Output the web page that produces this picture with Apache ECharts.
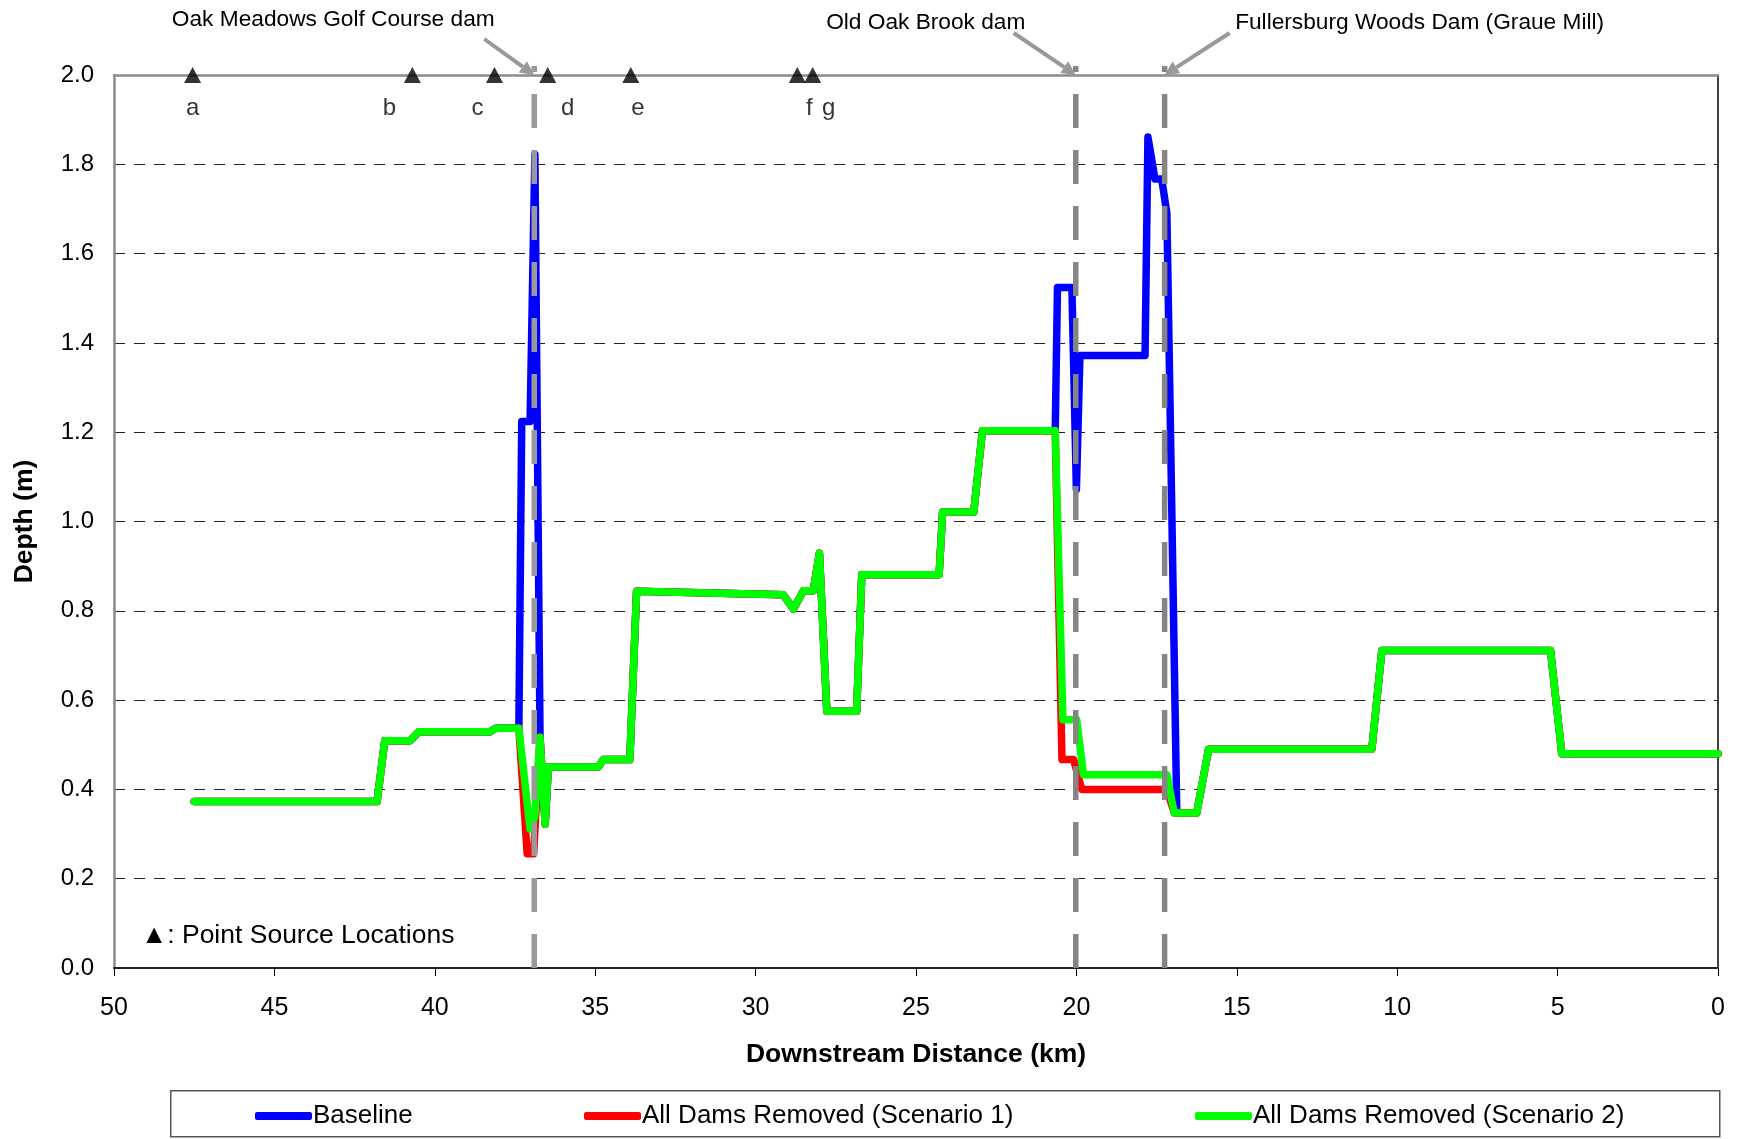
<!DOCTYPE html>
<html lang="en">
<head>
<meta charset="UTF-8">
<title>Depth profile</title>
<script src="https://cdn.jsdelivr.net/npm/echarts@6/dist/echarts.min.js"></script>
<style>
  html, body { margin: 0; padding: 0; background: #fff; }
  #chart { width: 1739px; height: 1139px; }
</style>
</head>
<body>
<div id="chart"></div>
<script>
// distances in km (downstream distance), depths in m
var upstream = [[47.5,0.373],[41.8,0.373],[41.56,0.509],[40.77,0.509],[40.5,0.529],[38.28,0.529],[38.1,0.537],[37.38,0.537]];
var midReach = [[36.72,0.517],[36.56,0.322],[36.46,0.45],[34.9,0.45],[34.75,0.467],[33.92,0.467],[33.71,0.844],
                [29.14,0.836],[28.82,0.804],[28.51,0.845],[28.2,0.845],[28.01,0.929],[27.78,0.575],[26.85,0.575],
                [26.69,0.881],[24.28,0.881],[24.17,1.021],[23.2,1.021],[22.93,1.203],[20.66,1.203]];
var downstream = [[16.25,0.347],[15.88,0.49],[10.79,0.49],[10.48,0.711],[5.22,0.711],[4.87,0.48],[0,0.48]];

var baseOakMeadows = [[37.29,1.224],[37.03,1.224],[36.88,1.822]];
var baseOakBrook = [[20.59,1.524],[20.14,1.524],[20.0,1.072],[19.89,1.372],[17.86,1.372],[17.77,1.861],
                    [17.55,1.767],[17.34,1.767],[17.18,1.69],[16.87,0.347]];
var scen1OakMeadows = [[37.12,0.256],[36.92,0.256]];
var scen1OakBrook = [[20.45,0.467],[20.09,0.467],[19.83,0.40],[17.18,0.40],[16.95,0.347]];
var scen2OakMeadows = [[37.03,0.311],[36.88,0.34]];
var scen2OakBrook = [[20.42,0.556],[19.99,0.556],[19.78,0.433],[17.18,0.433],[16.95,0.347]];

var srcNames = ['a','b','c','d','e','f','g'];
var srcKm = [47.55, 40.7, 38.14, 36.48, 33.89, 28.7, 28.22];
var srcLabelShift = [0, -23, -17, 20, 7, 12, 16];

var damNames = ['Oak Meadows Golf Course dam', 'Old Oak Brook dam', 'Fullersburg Woods Dam (Graue Mill)'];
var damKm = [36.9, 20.02, 17.25];

var xTicks = [0, 50, 5];   // min, max, interval
var yTicks = [0, 2, 0.2];

var baseline = upstream.concat(baseOakMeadows, midReach, baseOakBrook, downstream);
var scenario1 = upstream.concat(scen1OakMeadows, midReach, scen1OakBrook, downstream);
var scenario2 = upstream.concat(scen2OakMeadows, midReach, scen2OakBrook, downstream);

var FONT = 'Arial, "Liberation Sans", sans-serif';
var chart = echarts.init(document.getElementById('chart'));

function lineSeries(name, data, color) {
  return {
    name: name, type: 'line', data: data, showSymbol: false, symbol: 'none',
    lineStyle: { color: color, width: 7.5, join: 'round', cap: 'round' },
    itemStyle: { color: color }, z: 3, animation: false
  };
}

var damSeries = damKm.map(function (k, i) {
  return {
    name: damNames[i], type: 'line', data: [[k, 0], [k, 2.02]], clip: false, z: 6, silent: true,
    showSymbol: false, symbol: 'none',
    lineStyle: { color: i === 0 ? '#999' : '#858585', width: 5.5, type: [34, 22], cap: 'butt' }
  };
});

var option = {
  animation: false,
  backgroundColor: '#fff',
  textStyle: { fontFamily: FONT },
  grid: { left: 114, right: 21, top: 75, bottom: 171 },
  xAxis: [{
    type: 'value', inverse: true, min: xTicks[0], max: xTicks[1], interval: xTicks[2],
    name: 'Downstream Distance (km)', nameLocation: 'middle', nameGap: 73,
    nameTextStyle: { fontSize: 26.5, fontWeight: 'bold', color: '#000', fontFamily: FONT },
    axisLine: { onZero: false, lineStyle: { color: '#222', width: 2 } },
    axisTick: { show: true, length: 8, lineStyle: { color: '#000', width: 1 } },
    axisLabel: { fontSize: 25, color: '#000', margin: 28, fontFamily: FONT },
    splitLine: { show: false }, z: 4
  }, {
    type: 'value', position: 'top', inverse: true, min: xTicks[0], max: xTicks[1], interval: xTicks[2],
    axisLine: { show: true, onZero: false, lineStyle: { color: '#8c8c8c', width: 2.5 } },
    axisTick: { show: false }, axisLabel: { show: false }, splitLine: { show: false }, z: 4
  }],
  yAxis: [{
    type: 'value', min: yTicks[0], max: yTicks[1], interval: yTicks[2],
    name: 'Depth (m)', nameLocation: 'middle', nameGap: 76,
    nameTextStyle: { fontSize: 26.5, fontWeight: 'bold', color: '#000', fontFamily: FONT },
    axisLine: { show: true, onZero: false, lineStyle: { color: '#8c8c8c', width: 2.5 } },
    axisTick: { show: false },
    axisLabel: { fontSize: 24, color: '#000', margin: 20, fontFamily: FONT,
      formatter: function (v) { return v.toFixed(1); } },
    splitLine: { show: true, lineStyle: { color: '#222', width: 1, type: [11, 9] } }
  }, {
    type: 'value', position: 'right', min: yTicks[0], max: yTicks[1], interval: yTicks[2],
    axisLine: { show: true, onZero: false, lineStyle: { color: '#000', width: 1.5 } },
    axisTick: { show: false }, axisLabel: { show: false }, splitLine: { show: false }
  }],
  legend: [
    { data: ['Baseline'], left: 250, top: 1098 },
    { data: ['All Dams Removed (Scenario 1)'], left: 579, top: 1098 },
    { data: ['All Dams Removed (Scenario 2)'], left: 1190, top: 1098 }
  ].map(function (l) {
    l.icon = 'roundRect'; l.itemWidth = 57; l.itemHeight = 8; l.itemGap = 0;
    l.textStyle = { fontSize: 26, color: '#000', fontFamily: FONT, padding: [0, 0, 0, -4] };
    return l;
  }),
  series: [
    lineSeries('Baseline', baseline, '#0000ff'),
    lineSeries('All Dams Removed (Scenario 1)', scenario1, '#ff0000'),
    lineSeries('All Dams Removed (Scenario 2)', scenario2, '#00ff00')
  ].concat(damSeries, [{
      name: 'sources', type: 'scatter', clip: false, z: 7, silent: true,
      symbol: 'triangle', symbolSize: [17, 16],
      itemStyle: { color: '#000' },
      data: srcKm.map(function (k, i) {
        return {
          value: [k, 2.0], name: srcNames[i],
          label: { offset: [srcLabelShift[i], 0] }
        };
      }),
      label: {
        show: true, position: 'bottom', distance: 13, color: '#000', fontSize: 24, fontFamily: FONT,
        formatter: function (p) { return p.name; }
      }
    }])
};
chart.setOption(option);

// annotations placed from axis coordinates
var arrowTail = [[-50, -36], [-62, -42], [65, -42]];
var textCenter = [[-151, -19], [-88, -10], [190, -10]];
var graphics = [];
damKm.forEach(function (k, i) {
  var tip = chart.convertToPixel({ xAxisIndex: 0, yAxisIndex: 0 }, [k, 2.0]);
  var tail = [tip[0] + arrowTail[i][0], tip[1] + arrowTail[i][1]];
  var dx = tip[0] - tail[0], dy = tip[1] - tail[1];
  var len = Math.sqrt(dx * dx + dy * dy), ux = dx / len, uy = dy / len;
  var hl = 14, hw = 7;
  var base = [tip[0] - ux * hl, tip[1] - uy * hl];
  graphics.push({
    type: 'line', z: 20,
    shape: { x1: tail[0], y1: tail[1], x2: base[0], y2: base[1] },
    style: { stroke: '#999', lineWidth: 4 }
  });
  graphics.push({
    type: 'polygon', z: 20,
    shape: { points: [tip, [base[0] - uy * hw, base[1] + ux * hw], [base[0] + uy * hw, base[1] - ux * hw]] },
    style: { fill: '#999' }
  });
  graphics.push({
    type: 'text', z: 20,
    x: tail[0] + textCenter[i][0], y: tail[1] + textCenter[i][1],
    style: { text: damNames[i], fill: '#000', font: '22.7px ' + FONT, textAlign: 'center', textVerticalAlign: 'middle' }
  });
});
graphics.push({
  type: 'text', z: 20, left: 141, top: 922,
  style: { text: '\u25B2: Point Source Locations', fill: '#000', font: '26.5px ' + FONT }
});
graphics.push({
  type: 'rect', z: -1, left: 170, top: 1090,
  shape: { width: 1549, height: 46 },
  style: { fill: '#fff', stroke: '#555', lineWidth: 1.5 }
});
chart.setOption({ graphic: graphics });
</script>
</body>
</html>
